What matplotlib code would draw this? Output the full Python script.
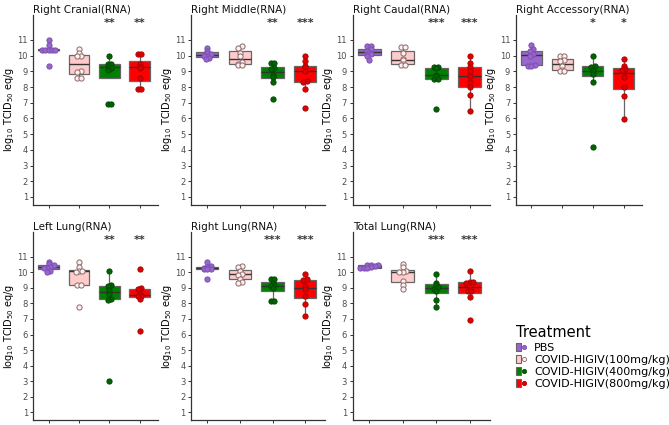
import numpy as np
import matplotlib
matplotlib.use("Agg")
import matplotlib.pyplot as plt
from matplotlib.patches import Patch
from matplotlib.lines import Line2D
from matplotlib.legend_handler import HandlerTuple

groups = ["PBS", "COVID-HIGIV(100mg/kg)", "COVID-HIGIV(400mg/kg)", "COVID-HIGIV(800mg/kg)"]
fill_colors = ["#9966CC", "#FFCCCC", "#008000", "#FF0000"]
point_colors = ["#9966CC", "#FFF0F0", "#006400", "#E00000"]
point_edges = ["#7A4FB0", "#8B6969", "#004A00", "#B00000"]

titles = ["Right Cranial(RNA)", "Right Middle(RNA)", "Right Caudal(RNA)", "Right Accessory(RNA)",
          "Left Lung(RNA)", "Right Lung(RNA)", "Total Lung(RNA)"]

right_cranial = [
    [11.0, 10.7, 10.35, 10.35, 10.35, 10.35, 10.35, 9.35],
    [10.4, 10.2, 10.0, 9.95, 9.0, 8.95, 8.6, 8.6],
    [9.95, 9.5, 9.5, 9.3, 9.2, 9.1, 6.9, 6.9],
    [10.1, 10.1, 9.5, 9.3, 9.2, 8.6, 7.85, 7.85],
]
right_middle = [
    [10.5, 10.3, 10.2, 10.1, 10.0, 9.95, 9.85, 9.8],
    [10.6, 10.5, 10.2, 10.0, 9.6, 9.5, 9.4, 9.4],
    [9.55, 9.55, 9.2, 9.15, 8.8, 8.65, 8.3, 7.25],
    [10.0, 9.65, 9.35, 9.25, 9.05, 8.4, 8.35, 7.9, 6.7],
]
right_caudal = [
    [10.6, 10.6, 10.4, 10.3, 10.2, 10.1, 9.95, 9.7],
    [10.55, 10.55, 10.2, 9.8, 9.7, 9.5, 9.4, 9.4],
    [9.3, 9.3, 9.2, 8.8, 8.7, 8.5, 8.5, 6.6],
    [10.0, 9.55, 9.3, 9.0, 8.7, 8.3, 8.0, 7.5, 6.45],
]
right_accessory = [
    [10.7, 10.4, 10.3, 10.1, 10.0, 9.4, 9.35, 9.35],
    [9.95, 9.95, 9.75, 9.65, 9.35, 9.1, 9.05, 9.05],
    [9.95, 9.35, 9.3, 9.1, 9.0, 8.85, 8.35, 4.2],
    [9.8, 9.35, 9.15, 9.1, 8.65, 8.0, 7.45, 5.95],
]
left_lung = [
    [10.7, 10.55, 10.45, 10.35, 10.3, 10.3, 10.1, 10.05],
    [10.65, 10.35, 10.1, 10.1, 10.05, 9.2, 9.2, 7.75],
    [10.1, 9.2, 9.1, 8.85, 8.6, 8.3, 8.25, 3.0],
    [10.2, 9.0, 8.95, 8.6, 8.5, 8.45, 8.3, 6.25],
]
right_lung = [
    [10.7, 10.4, 10.35, 10.3, 10.25, 10.2, 10.2, 9.55],
    [10.4, 10.35, 10.1, 9.9, 9.85, 9.6, 9.4, 9.3],
    [9.6, 9.6, 9.3, 9.2, 9.1, 9.0, 8.15, 8.15],
    [9.9, 9.6, 9.5, 9.1, 8.95, 8.45, 7.95, 7.2],
]
total_lung = [
    [10.5, 10.5, 10.45, 10.4, 10.35, 10.3, 10.3, 10.3],
    [10.55, 10.35, 10.1, 10.05, 10.0, 9.45, 9.2, 8.95],
    [9.9, 9.35, 9.2, 9.05, 8.95, 8.8, 8.2, 7.8],
    [10.1, 9.4, 9.4, 9.3, 8.8, 8.8, 8.4, 6.95],
]
panel_data = [right_cranial, right_middle, right_caudal, right_accessory,
              left_lung, right_lung, total_lung]

signif = [
    ["", "", "**", "**"],
    ["", "", "**", "***"],
    ["", "", "***", "***"],
    ["", "", "*", "*"],
    ["", "", "**", "**"],
    ["", "", "***", "***"],
    ["", "", "***", "***"],
]

yticks = list(range(1, 12))


def swarm_offsets(vals, binw=0.17, step=0.11):
    vals = np.asarray(vals, dtype=float)
    bins = np.round(vals / binw).astype(int)
    offs = np.zeros(len(vals))
    for b in np.unique(bins):
        idx = np.where(bins == b)[0]
        idx = idx[np.argsort(vals[idx])]
        n = len(idx)
        for k, j in enumerate(idx):
            offs[j] = (k - (n - 1) / 2) * step
    return offs


fig = plt.figure(figsize=(6.69, 4.25), dpi=100)

top_b, top_h = 0.518, 0.447
bot_b, bot_h = 0.012, 0.442
lefts = [0.05, 0.2855, 0.527, 0.771]
widths = [0.186, 0.2, 0.205, 0.189]

axes_pos = [
    (lefts[0], top_b, widths[0], top_h),
    (lefts[1], top_b, widths[1], top_h),
    (lefts[2], top_b, widths[2], top_h),
    (lefts[3], top_b, widths[3], top_h),
    (lefts[0], bot_b, widths[0], bot_h),
    (lefts[1], bot_b, widths[1], bot_h),
    (lefts[2], bot_b, widths[2], bot_h),
]

for p, pos in enumerate(axes_pos):
    ax = fig.add_axes(pos)
    data = panel_data[p]
    positions = np.arange(1, len(groups) + 1)
    bp = ax.boxplot(data, positions=positions, widths=0.68, patch_artist=True,
                    showfliers=False, showcaps=False,
                    medianprops=dict(color="#333333", linewidth=1.0),
                    whiskerprops=dict(color="#666666", linewidth=0.9),
                    boxprops=dict(linewidth=0.9))
    for i, box in enumerate(bp["boxes"]):
        box.set_facecolor(fill_colors[i])
        box.set_edgecolor("#666666")
    for i, vals in enumerate(data):
        offs = swarm_offsets(vals)
        ax.scatter(positions[i] + offs, vals, s=14, facecolor=point_colors[i],
                   edgecolor=point_edges[i], linewidth=0.7, zorder=5)
        if signif[p][i]:
            ax.text(positions[i], 12.1, signif[p][i], ha="center", va="center",
                    fontsize=8, fontweight="bold", color="#333333")
    ax.set_xlim(0.5, 4.6)
    ax.set_ylim(0.5, 12.6)
    ax.set_yticks(yticks)
    ax.set_yticklabels([str(t) for t in yticks], fontsize=6, color="#4D4D4D")
    ax.set_xticks(positions)
    ax.set_xticklabels([])
    ax.tick_params(axis="both", length=2.5, width=0.7, color="#333333", pad=1.5)
    for s in ["top", "right"]:
        ax.spines[s].set_visible(False)
    for s in ["left", "bottom"]:
        ax.spines[s].set_color("#333333")
        ax.spines[s].set_linewidth(0.9)
    ax.set_title(titles[p], fontsize=7.5, loc="left", x=0.0, pad=1.5, color="#111111")
    ax.set_ylabel(r"log$_{10}$ TCID$_{50}$ eq/g", fontsize=7, labelpad=1)

handles = []
for i in range(len(groups)):
    h = (Patch(facecolor=fill_colors[i], edgecolor="#666666", linewidth=0.8),
         Line2D([], [], marker="o", linestyle="None", markersize=3.0,
                markerfacecolor=point_colors[i], markeredgecolor=point_edges[i],
                markeredgewidth=0.6))
    handles.append(h)

fig.legend(handles, groups, handler_map={tuple: HandlerTuple(ndivide=None, pad=0)},
           loc="upper left", bbox_to_anchor=(0.765, 0.245), frameon=False,
           title="Treatment", title_fontsize=10.5, fontsize=8,
           handlelength=0.9, handleheight=0.7, handletextpad=0.7,
           labelspacing=0.2, alignment="left", borderaxespad=0)

fig.savefig("out.png", dpi=100)
